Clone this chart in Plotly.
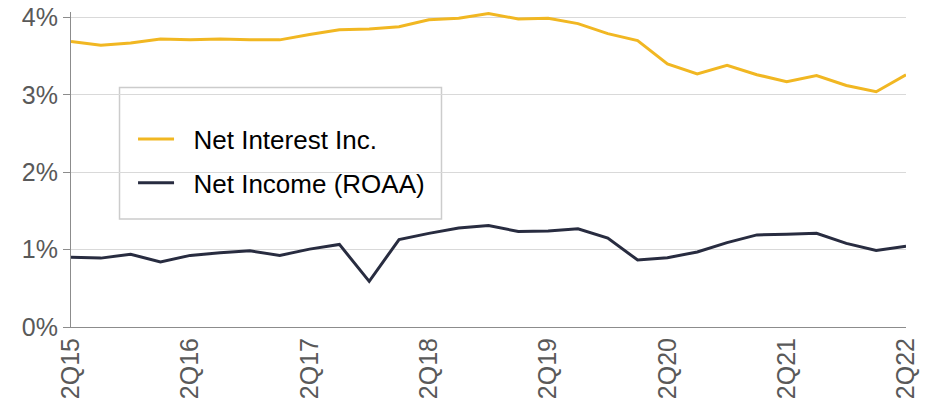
import plotly.graph_objects as go

quarters = ["2Q15", "3Q15", "4Q15", "1Q16", "2Q16", "3Q16", "4Q16", "1Q17",
            "2Q17", "3Q17", "4Q17", "1Q18", "2Q18", "3Q18", "4Q18", "1Q19",
            "2Q19", "3Q19", "4Q19", "1Q20", "2Q20", "3Q20", "4Q20", "1Q21",
            "2Q21", "3Q21", "4Q21", "1Q22", "2Q22"]

net_interest_inc = [3.69, 3.64, 3.67, 3.72, 3.71, 3.72, 3.71, 3.71, 3.78, 3.84,
                    3.85, 3.88, 3.97, 3.99, 4.05, 3.98, 3.99, 3.92, 3.79, 3.70,
                    3.40, 3.27, 3.38, 3.26, 3.17, 3.25, 3.12, 3.04, 3.26]

net_income_roaa = [0.90, 0.89, 0.94, 0.84, 0.925, 0.96, 0.985, 0.925, 1.006, 1.067,
                   0.59, 1.13, 1.21, 1.28, 1.31, 1.235, 1.24, 1.27, 1.15, 0.865,
                   0.895, 0.97, 1.09, 1.19, 1.20, 1.21, 1.08, 0.99, 1.045]

x_tick_labels = ["2Q15", "2Q16", "2Q17", "2Q18", "2Q19", "2Q20", "2Q21", "2Q22"]
y_tick_values = [0, 1, 2, 3, 4]
y_tick_labels = ["0%", "1%", "2%", "3%", "4%"]

YELLOW = "#F1B722"
NAVY = "#282C40"
FONT = "Arial, Liberation Sans, sans-serif"
NB = "\u00a0\u00a0"

fig = go.Figure()
fig.add_trace(go.Scatter(x=quarters, y=net_interest_inc, mode="lines",
                         name=NB + "Net Interest Inc.", legendgroup="a",
                         line=dict(color=YELLOW, width=3)))
fig.add_trace(go.Scatter(x=quarters, y=net_income_roaa, mode="lines",
                         name=NB + "Net Income (ROAA)", legendgroup="b",
                         line=dict(color=NAVY, width=3)))

fig.add_shape(type="rect", xref="paper", yref="paper",
              x0=0.0581, x1=0.4437, y0=0.3429, y1=0.7603,
              line=dict(color="#cccccc", width=1.5), fillcolor="white",
              layer="between")

fig.update_layout(
    width=932, height=406,
    margin=dict(l=71, r=26, t=12, b=79),
    paper_bgcolor="white", plot_bgcolor="white",
    font=dict(family=FONT, color="#595959"),
    showlegend=True,
    legend=dict(x=0.0743, xanchor="left", y=0.671, yanchor="top",
                bgcolor="rgba(0,0,0,0)", borderwidth=0,
                font=dict(size=26, color="#000000", family=FONT),
                itemwidth=36, tracegroupgap=7),
    xaxis=dict(type="category", categoryorder="array", categoryarray=quarters,
               range=[0, 28], tickvals=x_tick_labels, ticktext=x_tick_labels,
               tickangle=-90, tickfont=dict(size=25, color="#595959"),
               showgrid=False, showline=True, linecolor="#8c8c8c", linewidth=1,
               ticks="", zeroline=False, automargin=False,
               ticklabeloverflow="allow"),
    yaxis=dict(range=[0, 4.07], tickvals=y_tick_values, ticktext=y_tick_labels,
               tickfont=dict(size=25, color="#595959"),
               showgrid=True, gridcolor="#d9d9d9", gridwidth=1,
               showline=True, linecolor="#8c8c8c", linewidth=1,
               ticks="outside", ticklen=7, tickcolor="#8c8c8c",
               zeroline=False, automargin=False,
               ticklabeloverflow="allow"),
)

fig.write_html("out.html",
               config={"displayModeBar": False},
               post_script="document.body.style.margin='0';"
                           "document.body.style.overflow='hidden';")
